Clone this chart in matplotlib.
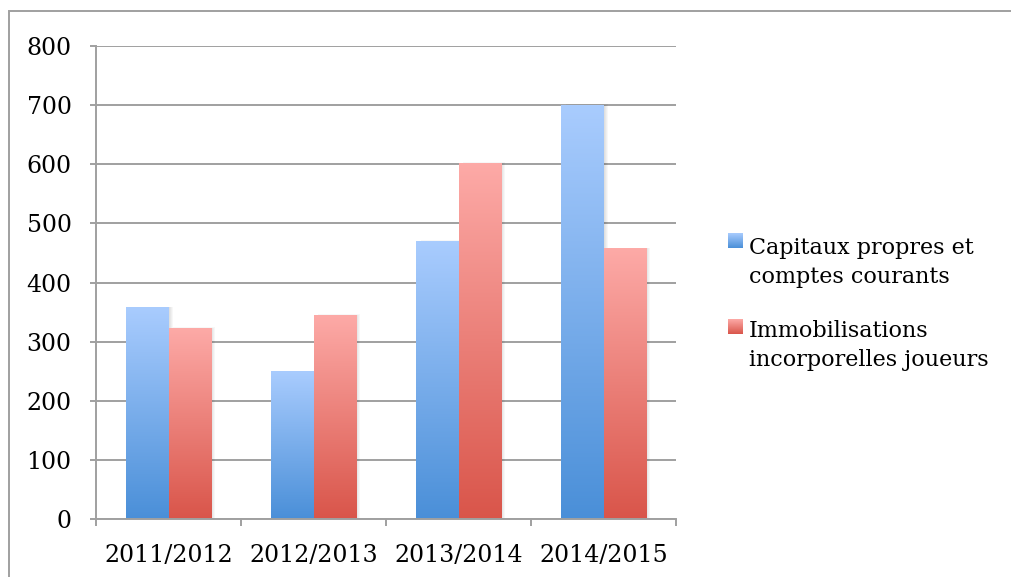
import numpy as np
import matplotlib.pyplot as plt
from matplotlib.colors import LinearSegmentedColormap
from matplotlib.patches import Rectangle

# data
seasons = ['2011/2012', '2012/2013', '2013/2014', '2014/2015']
capitaux = [358, 250, 470, 700]
immobilisations = [323, 345, 602, 458]
series_labels = ['Capitaux propres et\ncomptes courants',
                 'Immobilisations\nincorporelles joueurs']
yticks = [0, 100, 200, 300, 400, 500, 600, 700, 800]

plt.rcParams['font.family'] = ['DejaVu Serif']

grey = '#a0a0a0'
blue_cmap = LinearSegmentedColormap.from_list('b', ['#4a8fd8', '#a9ccfe'])
red_cmap = LinearSegmentedColormap.from_list('r', ['#d9554a', '#fdaaa7'])

W, H = 1011, 577
fig = plt.figure(figsize=(W / 100, H / 100), dpi=100)
ax = fig.add_axes([96 / W, 58 / H, 580 / W, 473 / H])

x = np.arange(len(seasons))
w = 0.29
bars_b = ax.bar(x - w / 2, capitaux, w, color='none', zorder=3)
bars_r = ax.bar(x + w / 2, immobilisations, w, color='none', zorder=3)

# gradient fill + soft shadow for each bar
grad = np.linspace(0, 1, 256).reshape(-1, 1)
for bars, cmap in [(bars_b, blue_cmap), (bars_r, red_cmap)]:
    for bar in bars:
        x0, bw, h = bar.get_x(), bar.get_width(), bar.get_height()
        for k in range(1, 5):
            off = 0.007 * k
            ax.add_patch(Rectangle((x0 + off, 0), bw, h + off * 40,
                                   color='black', alpha=0.03, lw=0, zorder=1.5))
        ax.imshow(grad, extent=[x0, x0 + bw, 0, h], cmap=cmap, aspect='auto',
                  origin='lower', zorder=2)

ax.set_xlim(-0.5, len(seasons) - 0.5)
ax.set_ylim(0, 800)
ax.set_yticks(yticks)
ax.set_xticks(x)
ax.set_xticklabels(seasons)
ax.set_xticks(np.arange(-0.5, len(seasons), 1), minor=True)

ax.yaxis.grid(True, color=grey, lw=1.4)
ax.set_axisbelow(True)
for s in ['top', 'right']:
    ax.spines[s].set_visible(False)
for s in ['left', 'bottom']:
    ax.spines[s].set_color(grey)
    ax.spines[s].set_linewidth(1.4)

ax.tick_params(axis='y', length=4.5, width=1.4, color=grey, pad=13, labelsize=17)
ax.tick_params(axis='x', which='major', length=0, pad=18, labelsize=17)
ax.tick_params(axis='x', which='minor', length=5, width=1.4, color=grey)

# legend drawn by hand: square aligned with the first text line
# (square top pixel, baseline pixel of the last text line)
legend_items = [(series_labels[0], blue_cmap, 233, 283),
                (series_labels[1], red_cmap, 319, 366)]
for label, cmap, top, base in legend_items:
    lax = fig.add_axes([728 / W, 1 - (top + 15) / H, 15 / W, 15 / H])
    lax.imshow(grad, cmap=cmap, aspect='auto', origin='lower')
    lax.axis('off')
    fig.text(749 / W, 1 - base / H, label, fontsize=16, va='baseline',
             ha='left', linespacing=1.4)

# outer frame (only top and left edges visible)
fig.add_artist(Rectangle((9 / W, -0.1), 1.2, 1.1 - 11 / H, fill=False,
                         edgecolor=grey, lw=1.4, transform=fig.transFigure,
                         clip_on=False))

fig.savefig('out.png', dpi=100)
